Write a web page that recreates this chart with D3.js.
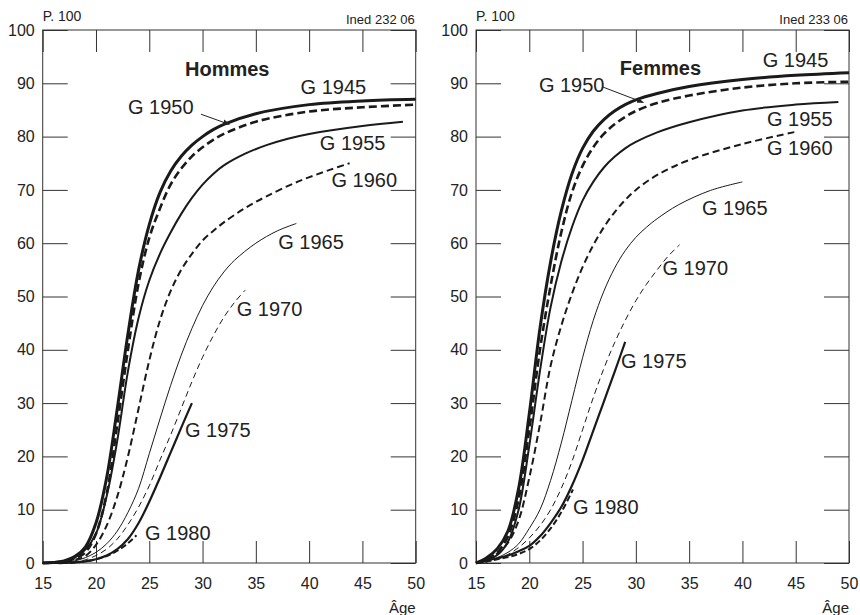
<!DOCTYPE html>
<html lang="fr">
<head>
  <meta charset="UTF-8" />
  <title>Proportion ayant quitté le foyer parental, par génération</title>
  <script src="https://cdn.jsdelivr.net/npm/d3@7/dist/d3.min.js"></script>
  <style>
    body { margin: 0; background: #fff; font-family: "Liberation Sans", Arial, sans-serif; }
    svg text { fill: #222; }
  </style>
</head>
<body>
  <div id="viz"></div>

  <script>
  // ---- données : [âge, p.100] ----
  const hommes1945 = [[15,0],[16,0.1],[17,0.4],[18,1.2],[19,3],[20,7.5],[21,16],[22,29],[23,43],[24,55],[25,63.5],[26,69.5],[27,73.5],[28,76.3],[29,78.4],[30,80],[31,81.3],[32,82.3],[35,84.3],[40,86],[45,86.7],[50,87]];
  const hommes1950 = [[15,0],[16,0.1],[17,0.3],[18,0.8],[19,2],[20,5.5],[21,13],[22,26],[23,40],[24,52.5],[25,61],[26,66.5],[27,71],[28,74],[29,76.3],[30,78],[31,79.4],[32,80.5],[35,82.8],[40,84.7],[45,85.5],[50,86]];
  const hommes1955 = [[15,0],[16,0.1],[17,0.3],[18,1],[19,2.5],[20,5.5],[21,12.5],[22,23],[23,36],[24,46],[25,53],[26,58],[27,62],[28,65.5],[29,68.5],[30,71],[31,73],[32,74.6],[34,76.8],[36,78.4],[38,79.6],[40,80.5],[45,82],[48.8,82.8]];
  const hommes1960 = [[15,0],[16,0.1],[17,0.2],[18,0.6],[19,1.3],[20,3.4],[21,7],[22,12.5],[23,20],[24,29],[25,38],[26,45.5],[27,51],[28,55],[29,58],[30,60.5],[31,62.3],[32,63.9],[34,66.6],[36,68.8],[39,71.6],[42,73.8],[43.8,75]];
  const hommes1965 = [[15,0],[16,0],[17,0.1],[18,0.4],[19,1],[20,2],[21,3.6],[22,6],[23,9.5],[24,14],[25,20.5],[26,27],[27,33.3],[28,39],[29,44],[30,48.3],[31,51.8],[32,54.6],[33,56.8],[35,60],[37,62.3],[38.8,63.7]];
  const hommes1970 = [[15,0],[16,0],[17,0],[18,0.2],[19,0.6],[20,1.4],[21,2.6],[22,4.5],[23,7.2],[24,10.5],[25,14.5],[26,19.3],[27,24],[28,29],[29,34],[30,38.6],[31,42.6],[32,46.1],[33,48.9],[34,51.2]];
  const hommes1975 = [[15,0],[16,0],[17,0],[18,0.1],[19,0.3],[20,0.7],[21,1.4],[22,2.6],[23,4.5],[24,7.5],[25,11.5],[26,16],[27,20.7],[28,25.4],[29,30]];
  const hommes1980 = [[15,0],[17,0],[18,0.1],[19,0.3],[20,0.7],[21,1.3],[22,2.3],[23,3.7],[23.8,5.2]];

  const femmes1945 = [[15,0],[16,1],[17,2.7],[18,6],[19,14],[20,28],[21,44],[22,56.5],[23,66],[24,73],[25,77.8],[26,81],[27,83.2],[28,84.8],[29,86],[30,86.9],[32,88.1],[35,89.4],[40,90.7],[45,91.5],[50,92]];
  const femmes1950 = [[15,0],[16,0.6],[17,2],[18,5],[19,12],[20,25],[21,40],[22,52],[23,62],[24,69.5],[25,74.5],[26,78],[27,80.5],[28,82.3],[29,83.7],[30,84.8],[32,86.3],[35,87.7],[40,89.2],[45,90],[50,90.3]];
  const femmes1955 = [[15,0],[16,0.5],[17,1.5],[18,4],[19,10],[20,22],[21,36],[22,48],[23,56.5],[24,63],[25,68],[26,71.5],[27,74.2],[28,76.2],[29,77.8],[30,79],[32,80.8],[35,82.7],[40,84.9],[45,86],[49,86.5]];
  const femmes1960 = [[15,0],[16,0.7],[17,1.8],[18,3.8],[19,8],[20,16],[21,26],[22,37],[23,44.5],[24,50.5],[25,55.5],[26,59.6],[27,63],[28,65.8],[29,68.1],[30,70],[32,72.8],[35,75.6],[40,78.6],[45,80.9]];
  const femmes1965 = [[15,0],[16,0.3],[17,1],[18,2],[19,3.6],[20,6.5],[21,10],[22,15.5],[23,22.5],[24,30.5],[25,38.5],[26,45.5],[27,51],[28,55.3],[29,58.6],[30,61.1],[31,63],[32,64.6],[34,67.2],[37,69.9],[40,71.5]];
  const femmes1970 = [[15,0],[16,0.2],[17,0.7],[18,1.6],[19,2.9],[20,4.7],[21,7],[22,10],[23,14],[24,19],[25,25],[26,31],[27,36.5],[28,41.3],[29,45.5],[30,49.2],[31,52.3],[32,55],[33,57.5],[34.1,59.7]];
  const femmes1975 = [[15,0],[16,0.5],[17,0.9],[18,1.4],[19,2.2],[20,3.2],[21,5],[22,7.5],[23,10.5],[24,14.5],[25,19.3],[26,24.8],[27,30.3],[28,35.8],[29,41.5]];
  const femmes1980 = [[15,0],[16,0.3],[17,0.7],[18,1.1],[19,1.7],[20,2.6],[21,4.2],[22,6.5],[23,9.5],[24.1,13.8]];

  const generations = ['G 1945','G 1950','G 1955','G 1960','G 1965','G 1970','G 1975','G 1980'];
  const xTicks = [15,20,25,30,35,40,45,50];
  const yTicks = [0,10,20,30,40,50,60,70,80,90,100];

  // ---- style des traits par génération ----
  const traits = [
    { w: 3.0, dash: null },
    { w: 2.6, dash: '8,4' },
    { w: 2.0, dash: null },
    { w: 2.0, dash: '7,4' },
    { w: 1.0, dash: null },
    { w: 1.0, dash: '6,4' },
    { w: 2.2, dash: null },
    { w: 2.0, dash: '6,3' }
  ];

  // étiquettes : position en coordonnées (âge, p.100) du coin gauche
  const panels = [
    {
      titre: 'Hommes', ined: 'Ined 232 06', left: 42.7,
      series: [hommes1945, hommes1950, hommes1955, hommes1960, hommes1965, hommes1970, hommes1975, hommes1980],
      titrePos: [28.35, 92.7],
      labels: [[39.2,89.3],[23.0,85.5],[41.0,78.8],[42.1,71.9],[37.1,60.2],[33.2,47.7],[28.35,25.0],[24.6,5.6]],
      fleche: [[29.85,84.2],[32.5,82.3]]
    },
    {
      titre: 'Femmes', ined: 'Ined 233 06', left: 476,
      series: [femmes1945, femmes1950, femmes1955, femmes1960, femmes1965, femmes1970, femmes1975, femmes1980],
      titrePos: [28.5, 92.9],
      labels: [[41.9,94.4],[20.9,89.7],[42.3,83.3],[42.3,77.9],[36.2,66.6],[32.5,55.3],[28.6,37.9],[24.1,10.5]],
      fleche: [[26.9,89.3],[30.7,86.4]]
    }
  ];

  const W = 860, H = 615;
  const yTop = 30, yBottom = 563, pw = 373;

  const svg = d3.select('#viz').append('svg')
    .attr('width', W).attr('height', H);

  svg.append('defs').append('marker')
    .attr('id', 'fl')
    .attr('viewBox', '0 0 10 10')
    .attr('refX', 9).attr('refY', 5)
    .attr('markerWidth', 7).attr('markerHeight', 7)
    .attr('orient', 'auto')
    .append('path')
      .attr('d', 'M0,1 L10,5 L0,9 Z')
      .attr('fill', '#222');

  panels.forEach(p => {
    const g = svg.append('g').attr('transform', `translate(${p.left},0)`);

    const x = d3.scaleLinear().domain([15, 50]).range([0, pw]);
    const y = d3.scaleLinear().domain([0, 100]).range([yBottom, yTop]);

    // axes (graduations vers l'intérieur)
    const gb = g.append('g').attr('transform', `translate(0,${yBottom})`)
      .call(d3.axisBottom(x).tickValues(xTicks).tickSize(-22).tickSizeOuter(0).tickPadding(15));
    const gt = g.append('g').attr('transform', `translate(0,${yTop})`)
      .call(d3.axisTop(x).tickValues(xTicks).tickSize(-22).tickSizeOuter(0).tickFormat(''));
    const gl = g.append('g')
      .call(d3.axisLeft(y).tickValues(yTicks).tickSize(-25).tickSizeOuter(0).tickPadding(8));
    const gr = g.append('g').attr('transform', `translate(${pw},0)`)
      .call(d3.axisRight(y).tickValues(yTicks).tickSize(-25).tickSizeOuter(0).tickFormat(''));

    [gb, gt, gl, gr].forEach(a => {
      a.select('.domain').remove();
      a.selectAll('line').attr('stroke', '#333').attr('stroke-width', 1);
      a.selectAll('text').attr('font-size', 16)
        .attr('font-family', '"Liberation Sans", Arial, sans-serif').attr('fill', '#222');
    });

    g.append('rect')
      .attr('x', 0).attr('y', yTop)
      .attr('width', pw).attr('height', yBottom - yTop)
      .attr('fill', 'none').attr('stroke', '#333').attr('stroke-width', 1);

    // courbes
    const line = d3.line()
      .x(d => x(d[0]))
      .y(d => y(d[1]))
      .curve(d3.curveCatmullRom.alpha(0.5));

    p.series.forEach((s, i) => {
      g.append('path')
        .datum(s)
        .attr('fill', 'none')
        .attr('stroke', '#1a1a1a')
        .attr('stroke-width', traits[i].w)
        .attr('stroke-dasharray', traits[i].dash)
        .attr('stroke-linejoin', 'round')
        .attr('d', line);
    });

    // étiquettes des générations
    p.labels.forEach((l, i) => {
      g.append('text')
        .attr('x', x(l[0]))
        .attr('y', y(l[1]))
        .attr('dy', '0.36em')
        .attr('font-size', 20)
        .text(generations[i]);
    });

    g.append('line')
      .attr('x1', x(p.fleche[0][0])).attr('y1', y(p.fleche[0][1]))
      .attr('x2', x(p.fleche[1][0])).attr('y2', y(p.fleche[1][1]))
      .attr('stroke', '#222').attr('stroke-width', 1)
      .attr('marker-end', 'url(#fl)');

    g.append('text')
      .attr('x', x(p.titrePos[0]))
      .attr('y', y(p.titrePos[1]))
      .attr('dy', '0.36em')
      .attr('font-size', 20)
      .attr('font-weight', 'bold')
      .text(p.titre);

    g.append('text')
      .attr('x', 0).attr('y', 21)
      .attr('font-size', 14)
      .text('P. 100');

    g.append('text')
      .attr('x', pw - 1).attr('y', 24)
      .attr('text-anchor', 'end')
      .attr('font-size', 13)
      .text(p.ined);

    g.append('text')
      .attr('x', pw).attr('y', 613)
      .attr('text-anchor', 'end')
      .attr('font-size', 15)
      .text('Âge');
  });
  </script>
</body>
</html>
